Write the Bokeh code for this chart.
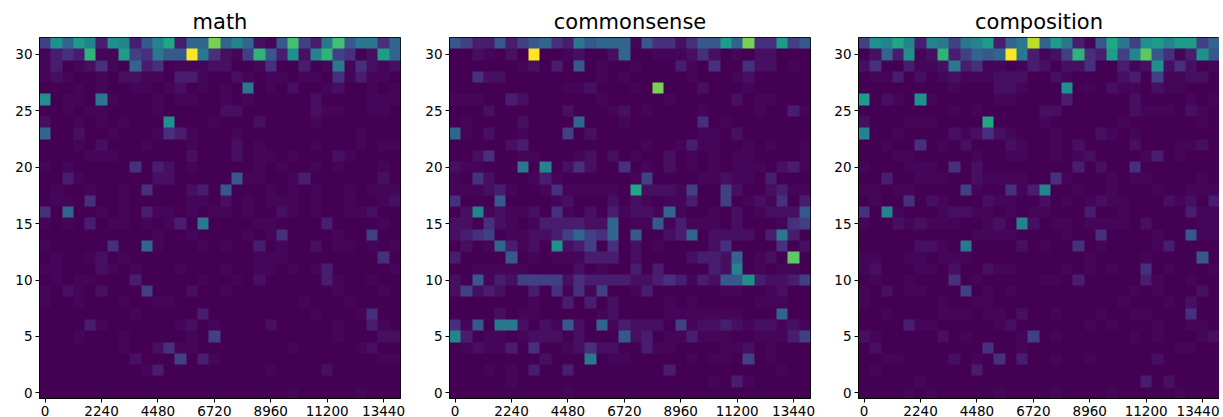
import numpy as np
from bokeh.embed import file_html
from bokeh.layouts import row
from bokeh.models import LinearColorMapper, FixedTicker, Range1d
from bokeh.palettes import Viridis256
from bokeh.plotting import figure
from bokeh.resources import INLINE

# rows of heat levels, {row: {column: level}}; absent cells are 0
math_rows = {
31: {0:5,1:10,2:7,3:11,4:9,5:3,6:10,7:9,8:3,9:6,10:9,11:12,12:3,13:7,14:7,15:16,16:7,17:9,18:7,19:2,20:1,21:6,22:14,23:5,24:3,25:8,26:14,27:6,28:8,29:8,30:4,31:7},
30: {0:1,1:3,2:4,3:3,4:13,5:1,6:1,7:11,8:5,9:4,10:8,11:6,12:6,13:20,14:8,15:4,16:2,17:1,18:5,19:13,20:6,21:3,22:10,23:2,24:9,25:13,26:5,27:4,29:2,30:11,31:7},
29: {0:1,1:3,3:1,4:2,5:4,6:1,8:7,9:3,10:4,12:1,13:1,14:1,15:2,16:2,19:1,20:4,23:3,25:1,26:8,27:1,28:4,29:2,30:1,31:2},
28: {0:1,1:2,2:1,5:1,7:2,8:2,9:1,10:1,12:3,13:3,14:1,17:2,18:1,20:1,21:1,23:1,24:1,26:4,27:1,28:3,29:1,30:1},
27: {3:1,5:1,8:1,9:1,11:1,12:2,14:1,16:1,18:8,20:1,22:2,25:1,26:2,29:1,31:1},
26: {0:10,2:1,3:1,5:8,6:1,10:1,12:1,13:1,16:1,18:1,24:2,29:1,30:1,31:1},
25: {2:1,4:1,5:1,10:1,16:2,17:2,24:2,25:1,26:1,29:1,30:1},
24: {0:2,3:1,5:1,7:1,11:10,15:1,19:2,24:1},
23: {0:7,3:2,6:1,10:1,11:4,12:3,13:1,17:1,28:1},
22: {3:1,5:2,9:1,13:1,17:2,19:1,24:1,28:1,30:1,31:1},
21: {4:1,5:1,6:1,13:2,17:2,19:1,20:1,22:1,26:2,27:1},
20: {0:1,2:1,8:4,10:3,11:2,13:1,19:1,21:1,24:1,26:1,30:1},
19: {2:3,3:1,10:2,11:2,17:6,18:1,19:1,22:1,23:3,30:2},
18: {1:1,4:1,7:1,9:4,13:2,14:3,16:6,20:1,22:1,24:1,27:1,29:1,30:1,31:1},
17: {1:1,2:1,4:4,7:1,13:1,14:1,16:2,18:1,20:1,21:1,22:1,24:1,27:1,30:1,31:2},
16: {0:4,2:7,5:1,7:1,9:3,10:1,11:1,13:1,15:1,16:1,18:1,21:2,22:1,24:1,27:1,28:1,29:2},
15: {0:1,2:1,4:3,6:1,7:1,9:1,11:1,12:3,14:8,19:1,20:1,25:3,30:1},
14: {10:1,13:1,18:1,20:1,21:4,26:1,29:5},
13: {0:1,6:4,9:7,10:1,14:1,16:1,19:3,21:1,24:2,26:1,27:1,29:1,31:1},
12: {1:1,4:1,5:2,7:1,19:1,20:1,21:1,30:4},
11: {0:1,1:1,5:2,6:1,8:1,12:1,16:1,19:1,20:1,22:1,24:1,25:3,31:1},
10: {1:1,3:1,4:1,8:3,14:1,17:1,19:2,25:3,26:1,29:1},
9: {0:1,2:2,3:1,5:2,9:5,13:2,16:1,26:1,30:1},
8: {0:1,3:1,7:1,10:1,11:1,23:1,27:1},
7: {8:1,14:3,24:1,28:1,29:4},
6: {4:3,5:1,12:1,13:2,15:1,20:2,26:1,29:3,30:1},
5: {3:1,7:1,13:1,15:5,26:1,30:2,31:2},
4: {7:1,10:2,11:4,12:1,13:1,22:1,28:1,29:2},
3: {8:2,12:5,14:3,15:1,30:1,31:1},
2: {9:1,10:3,20:1,25:2},
1: {},
0: {22:1,28:1},
}

commonsense_rows = {
31: {0:6,1:5,2:3,3:3,4:6,5:3,6:5,7:6,8:7,9:4,10:3,11:8,12:6,13:7,14:7,15:7,16:1,17:6,18:4,19:4,20:2,21:4,22:6,23:6,24:11,25:7,26:16,27:4,28:4,29:11,30:5,31:6},
30: {2:2,3:1,5:2,7:20,10:1,11:2,14:2,15:7,18:1,19:1,20:1,21:2,22:4,23:2,25:1,27:2,28:2},
29: {6:1,7:2,9:3,11:6,13:1,16:1,20:3,21:1,23:4,26:4,27:2,28:2,30:1},
28: {2:4,3:2,4:2,13:1,15:1,21:1,25:1,26:2},
27: {10:1,11:1,12:2,16:1,18:16,22:2,26:1},
26: {0:1,1:1,2:1,5:3,6:2,13:1,19:1,25:2,27:1,28:1},
25: {3:2,10:2,14:1,15:2,17:1,22:1,27:1,30:3,31:1},
24: {1:1,6:2,11:7,15:1,22:4,24:1},
23: {0:7,1:1,3:2,6:1,10:5,12:2,22:1,23:1,25:2},
22: {5:2,6:3,17:1,20:1,21:3,22:1,23:1,26:1,28:1,31:1},
21: {2:2,3:4,6:1,7:1,11:1,12:2,14:2,16:1,19:2,21:1,23:1,25:1,26:1,31:1},
20: {0:2,1:1,2:1,6:8,8:9,10:2,11:4,12:2,15:4,17:1,19:2,21:1,23:1,25:1,26:1,27:1,29:2,30:3,31:1},
19: {0:1,2:4,3:2,7:1,8:3,9:1,16:1,17:5,22:1,23:1,24:2,25:1,26:1,28:3},
18: {0:1,1:1,2:1,3:2,4:3,5:1,8:1,9:4,10:1,11:1,12:1,13:1,14:1,16:12,17:2,18:2,19:2,20:1,21:5,24:5,25:2,28:2,29:3,30:1,31:1},
17: {0:4,4:6,9:1,10:2,14:2,16:2,17:1,19:1,20:1,21:3,24:5,26:1,27:2,28:1,29:4,31:3},
16: {1:2,2:9,3:1,4:2,5:1,6:1,7:2,9:4,10:1,12:2,14:3,15:1,16:2,17:2,18:1,19:7,20:1,23:1,25:2,27:1,28:2,29:2,30:2,31:6},
15: {0:2,1:2,3:4,4:2,5:1,7:1,8:3,9:3,10:3,11:3,12:2,13:2,14:7,16:1,17:1,18:6,19:1,20:3,21:1,22:1,23:1,25:2,29:1,30:4,31:5},
14: {0:2,1:3,2:4,3:5,5:1,6:1,7:2,8:2,9:3,10:5,11:7,12:5,13:4,14:7,16:6,19:2,20:3,21:7,23:2,24:2,25:2,26:2,28:3,29:8,30:3},
13: {1:2,3:1,4:7,5:3,6:1,7:2,9:10,10:2,11:3,12:5,14:4,16:2,18:1,23:2,24:4,29:4,31:2},
12: {0:3,5:6,7:1,9:1,10:1,11:1,12:3,13:3,14:3,16:2,21:2,22:3,23:3,24:2,25:7,27:1,28:2,30:15},
11: {2:1,3:1,4:1,5:1,6:1,11:2,13:1,16:3,18:3,23:3,24:2,25:9,27:1,29:1,30:1},
10: {0:2,2:6,3:1,4:3,5:2,6:5,7:5,8:5,9:5,10:2,11:4,12:3,13:3,14:3,15:3,16:2,17:2,18:3,19:4,20:3,21:1,22:3,23:2,24:6,25:6,26:10,27:3,28:2,29:2,30:3,31:5},
9: {0:2,1:5,2:2,3:3,4:2,7:3,9:4,10:1,11:4,12:1,13:5,16:1,17:3,24:1,25:1,28:1,29:2},
8: {7:1,10:3,12:3,14:2,19:1,21:1,27:1,28:1,29:1},
7: {4:2,6:1,7:1,13:1,14:2,19:1,20:1,21:1,22:1,23:1,24:1,25:1,29:7},
6: {0:4,1:1,2:6,4:8,5:8,6:2,8:2,9:1,10:6,11:2,13:7,14:1,15:3,16:2,17:2,18:2,20:5,21:1,22:2,23:2,24:3,25:2,26:1,27:2,28:2,29:1,30:2,31:1},
5: {0:9,1:3,3:1,4:1,6:1,7:2,8:2,9:2,11:2,15:6,16:2,17:3,19:1,20:1,21:3,22:1,23:1,24:1,27:1,28:1,29:1,30:3,31:5},
4: {1:1,2:2,3:1,4:1,5:3,7:4,10:1,11:2,12:4,13:2,14:2,17:3,18:1,19:1,24:1,25:1,26:2,28:1},
3: {8:2,12:8,14:1,15:1,21:1,23:1,24:1,26:5,28:1},
2: {3:1,5:1,7:3,10:3,19:3,29:1},
1: {5:1,23:1,25:3,26:1},
0: {10:1},
}

composition_rows = {
31: {0:5,1:10,2:9,3:12,4:9,5:3,6:9,7:8,8:5,9:8,10:9,11:11,12:3,13:7,14:8,15:18,16:7,17:11,18:8,19:3,20:1,21:6,22:12,23:8,24:5,25:10,26:11,27:9,28:11,29:11,30:5,31:7},
30: {1:2,2:7,3:3,4:10,5:1,6:2,7:13,8:3,9:5,10:7,11:6,12:7,13:20,14:8,15:3,16:1,17:2,18:5,19:13,20:4,21:3,22:11,23:5,24:9,25:15,26:6,27:4,28:1,29:3,30:10,31:6},
29: {0:2,1:4,4:3,5:1,6:1,7:2,8:8,9:3,10:4,11:1,12:1,14:1,15:3,16:2,18:2,19:2,20:4,23:3,24:1,25:2,26:10,27:2,28:4,29:2,31:1},
28: {1:1,2:1,3:3,5:2,7:1,8:2,9:1,10:1,11:1,12:2,13:2,14:2,17:2,18:1,23:2,24:3,26:5,27:1,28:1,29:2,30:2},
27: {8:1,12:2,13:2,14:1,18:10,20:1,22:2,23:1,24:1,26:2,27:1,28:1},
26: {0:11,2:2,3:1,5:10,6:1,12:1,13:1,18:3,24:2,29:1,31:1},
25: {8:1,10:1,16:2,17:2,24:2,25:1,26:1,27:1,29:2,30:1},
24: {0:2,4:1,5:1,6:1,11:12,16:1,23:1,30:1},
23: {0:9,3:1,8:2,9:1,10:2,11:4,12:2,13:1,17:1,21:2,22:1,24:1},
22: {2:1,5:4,7:1,9:2,13:2,14:1,17:1,19:2,24:2,28:1,29:1,30:2},
21: {3:1,4:1,10:1,13:1,14:1,17:1,19:1,20:2,25:1,26:3,28:1},
20: {0:1,4:1,5:1,6:1,8:4,10:2,19:3,21:2,24:4},
19: {2:3,5:1,6:1,7:1,10:2,11:1,12:1,13:1,14:1,17:4,18:1,22:1,24:1,25:1,30:1},
18: {0:1,1:1,3:1,4:1,9:5,10:1,13:4,14:1,15:3,16:9,19:1,22:1,26:1,29:1,30:1,31:1},
17: {1:1,4:4,6:2,7:1,11:2,12:1,13:1,16:2,18:1,20:1,21:2,22:1,23:1,27:2,28:1,29:2,31:3},
16: {0:4,2:9,3:1,7:1,8:2,9:2,10:1,11:1,13:1,15:1,16:1,20:3,23:1,29:3,30:1,31:1},
15: {0:1,3:2,4:1,5:2,6:1,7:1,8:1,11:1,12:2,14:9,15:2,17:1,18:1,20:1,21:1,22:1,23:1,25:2,30:1,31:1},
14: {10:1,11:1,12:1,13:1,18:1,21:4,26:1,29:6,30:1,31:1},
13: {5:2,6:2,7:1,9:8,14:2,16:1,19:4,21:1,26:1,27:3},
12: {0:1,1:1,4:1,5:1,7:1,8:1,9:1,20:1,25:1,30:6},
11: {0:1,1:2,5:1,6:1,8:2,11:2,12:1,13:1,18:1,20:1,22:1,25:4,27:1,31:1},
10: {1:1,4:1,8:4,10:1,16:1,17:1,19:3,25:3,26:1,29:1},
9: {0:1,2:2,4:1,5:1,9:5,11:1,13:1,24:1,26:1,30:2},
8: {0:1,7:1,10:1,11:1,23:1,27:1,29:2},
7: {2:1,7:1,8:1,9:1,11:1,12:1,14:2,17:1,21:1,24:1,25:1,29:4},
6: {4:3,5:1,6:1,12:1,13:2,20:1,22:1,26:1,29:1,30:1},
5: {0:2,1:1,7:2,9:1,14:1,15:5,17:1,24:1,26:1,30:1,31:2},
4: {1:2,11:4,14:1,28:1,29:1},
3: {2:1,3:1,8:2,10:1,12:4,14:3,17:1,20:1,26:2},
2: {1:1,10:3},
1: {5:1,25:3,27:2},
0: {4:1,6:1,12:1,17:1,22:1,28:1},
}

titles = ["math", "commonsense", "composition"]
tick_labels = ["0", "2240", "4480", "6720", "8960", "11200", "13440"]
x_ticks = [0, 5, 10, 15, 20, 25, 30]
y_ticks = [0, 5, 10, 15, 20, 25, 30]
# heat each read level stands for, on the 0..20 colour scale
level_heat = [0, 0.35, 0.8, 1.6, 2.7, 3.8, 5.5, 6.5, 8, 9, 10, 11, 12, 13, 14, 15, 16, 17, 18, 19, 20]
FONT = "DejaVu Sans"
mapper = LinearColorMapper(palette=Viridis256, low=0, high=20)


def panel(title, rows, left, right):
    m = np.zeros((32, 32))
    for r, cells in rows.items():
        for c, level in cells.items():
            m[r, c] = level_heat[level]
    p = figure(frame_width=361, frame_height=361, output_backend="svg", toolbar_location=None,
               x_range=Range1d(-0.5, 31.5), y_range=Range1d(-0.5, 31.5),
               min_border_left=left, min_border_right=right, min_border_top=37, min_border_bottom=19,
               title=title)
    p.image(image=[m], x=-0.5, y=-0.5, dw=32, dh=32, color_mapper=mapper)
    p.title.text_font = FONT
    p.title.text_font_size = "21px"
    p.title.text_font_style = "normal"
    p.title.align = "center"
    p.title.text_color = "#000000"
    p.title.standoff = 7
    p.xgrid.visible = False
    p.ygrid.visible = False
    p.outline_line_color = "#000000"
    p.outline_line_width = 1
    for ax in (p.xaxis[0], p.yaxis[0]):
        ax.axis_line_color = "#000000"
        ax.major_tick_line_color = "#000000"
        ax.major_tick_in = 0
        ax.major_tick_out = 4
        ax.minor_tick_line_color = None
        ax.major_label_text_font = FONT
        ax.major_label_text_font_size = "13.5px"
        ax.major_label_text_color = "#000000"
        ax.major_label_standoff = 3
    p.xaxis[0].ticker = FixedTicker(ticks=x_ticks)
    p.xaxis[0].major_label_overrides = {t: l for t, l in zip(x_ticks, tick_labels)}
    p.yaxis[0].ticker = FixedTicker(ticks=y_ticks)
    p.yaxis[0].major_label_orientation = "horizontal"
    return p


figs = [
    panel(titles[0], math_rows, 39, 17),
    panel(titles[1], commonsense_rows, 32, 16),
    panel(titles[2], composition_rows, 32, 0),
]
page = row(*figs, spacing=0)
open("out.html", "w").write(file_html(page, INLINE))
